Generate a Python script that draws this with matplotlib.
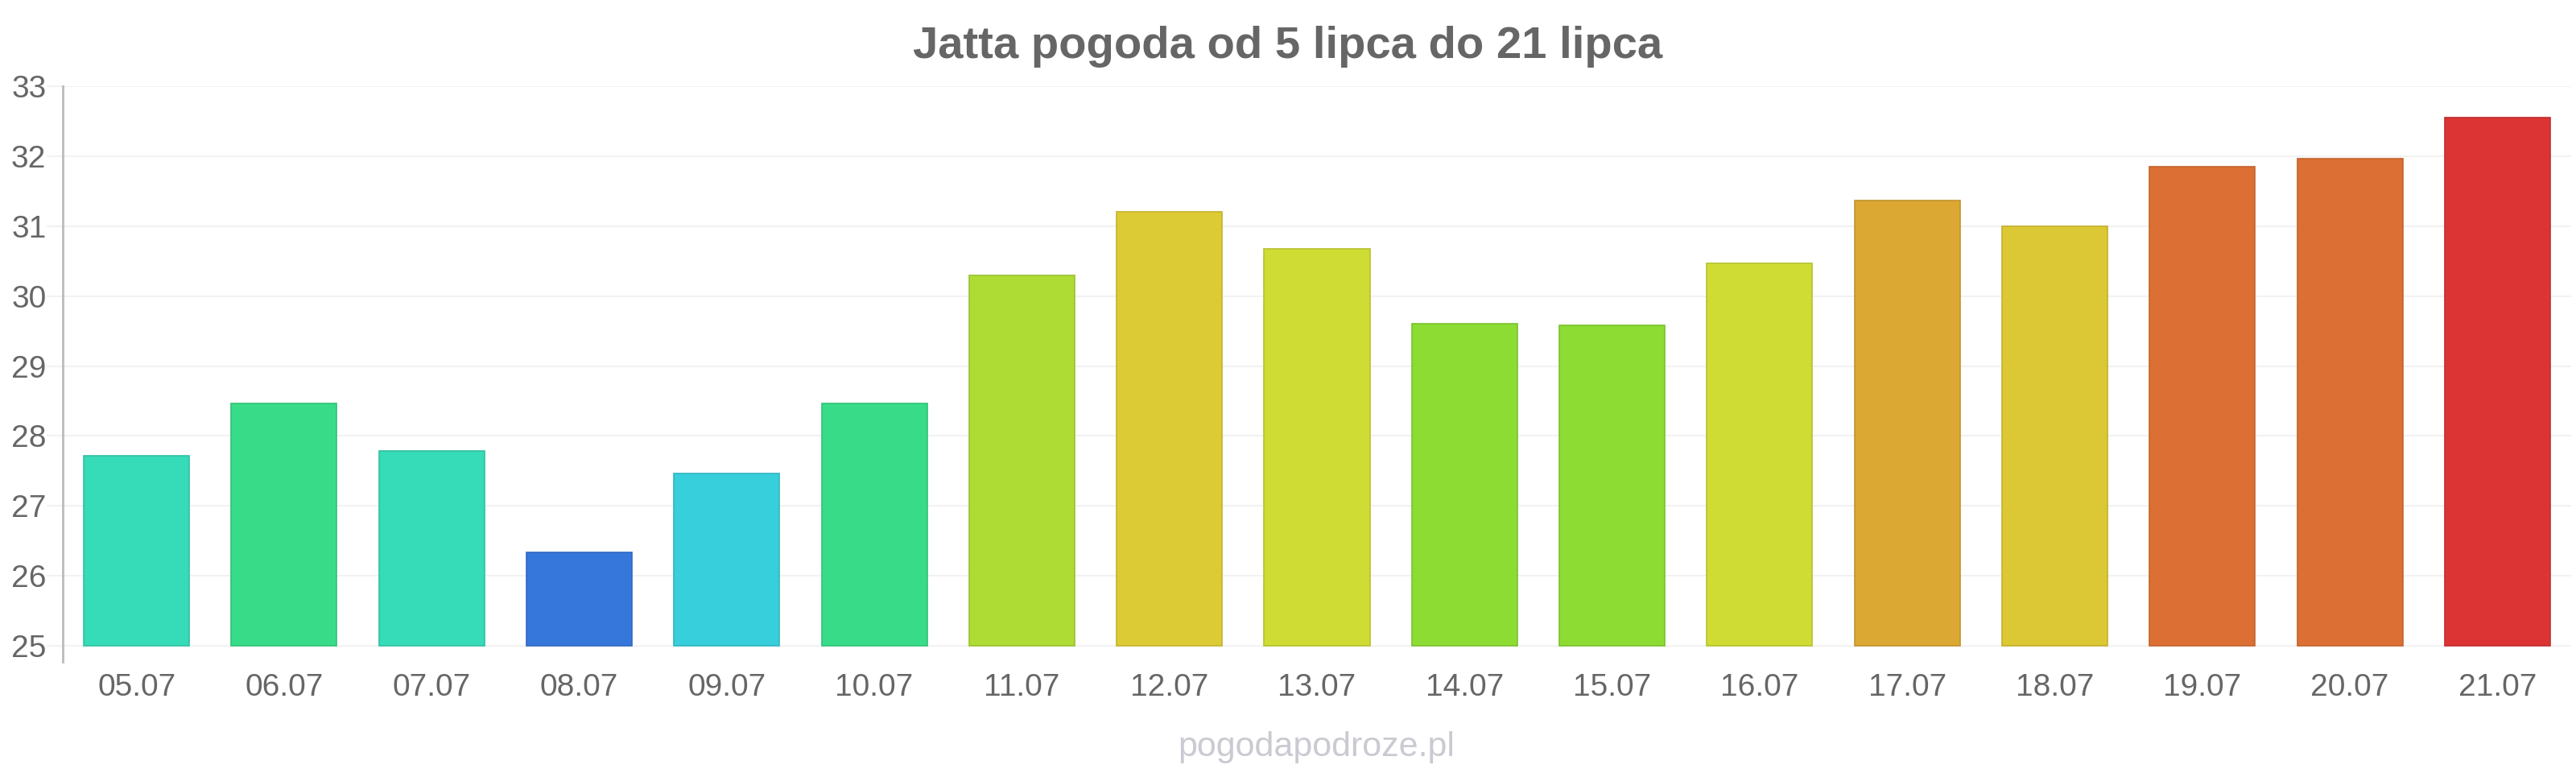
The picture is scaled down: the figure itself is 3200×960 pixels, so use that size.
import matplotlib
matplotlib.use("Agg")
import matplotlib.pyplot as plt
import matplotlib.colors as mcolors

plt.rcParams['font.family'] = ['Liberation Sans', 'DejaVu Sans']

labels = ["05.07", "06.07", "07.07", "08.07", "09.07", "10.07", "11.07", "12.07", "13.07",
          "14.07", "15.07", "16.07", "17.07", "18.07", "19.07", "20.07", "21.07"]
values = [27.72, 28.47, 27.79, 26.34, 27.46, 28.47, 30.30, 31.20, 30.68,
          29.60, 29.58, 30.47, 31.36, 31.00, 31.85, 31.96, 32.55]
colors = ["#36dbb8", "#38dc88", "#36dbb8", "#3677dc", "#36cfdb", "#38dc88", "#aedc34", "#dccb34", "#cedc34",
          "#8cdc34", "#8cdc34", "#cedc34", "#dca834", "#dcc834", "#dc7034", "#dc7034", "#dc3434"]
yticks = [25, 26, 27, 28, 29, 30, 31, 32, 33]
title = "Jatta pogoda od 5 lipca do 21 lipca"
watermark = "pogodapodroze.pl"

def darker(c, f=0.88):
    r, g, b = mcolors.to_rgb(c)
    return (r * f, g * f, b * f)

fig = plt.figure(figsize=(32, 9.6), dpi=100)
ax = fig.add_axes([78 / 3200, 1 - 822 / 960, (3194 - 78) / 3200, (822 - 107) / 960])

base = 25
x = range(len(labels))
ax.bar(x, [v - base for v in values], bottom=base, width=0.715, color=colors,
       edgecolor=[darker(c) for c in colors], linewidth=1.2, zorder=3)

ax.set_xlim(-0.5, len(labels) - 0.5)
ax.set_ylim(base - 20 / 87, 33)
ax.set_yticks(yticks)
ax.set_yticklabels([str(t) for t in yticks])
ax.set_xticks(list(x))
ax.set_xticklabels(labels)

ax.grid(axis='y', color='#f2f2f2', linewidth=1.5, zorder=0)
ax.tick_params(axis='y', length=14.4, width=1.5, color='#f2f2f2', labelsize=28, labelcolor='#666666', pad=0.5)
ax.tick_params(axis='x', length=0, labelsize=28, labelcolor='#666666', pad=10)

for s in ['top', 'right', 'bottom']:
    ax.spines[s].set_visible(False)
ax.spines['left'].set_color('#bbbbbb')
ax.spines['left'].set_linewidth(2)

fig.text(0.5, 1 - 58 / 960, title, ha='center', va='center', fontsize=40.5,
         fontweight='bold', color='#666666')
fig.text(1635 / 3200, 1 - 928 / 960, watermark, ha='center', va='center', fontsize=31,
         color='#cacad2')

fig.savefig("out.png", dpi=100, facecolor='white')
